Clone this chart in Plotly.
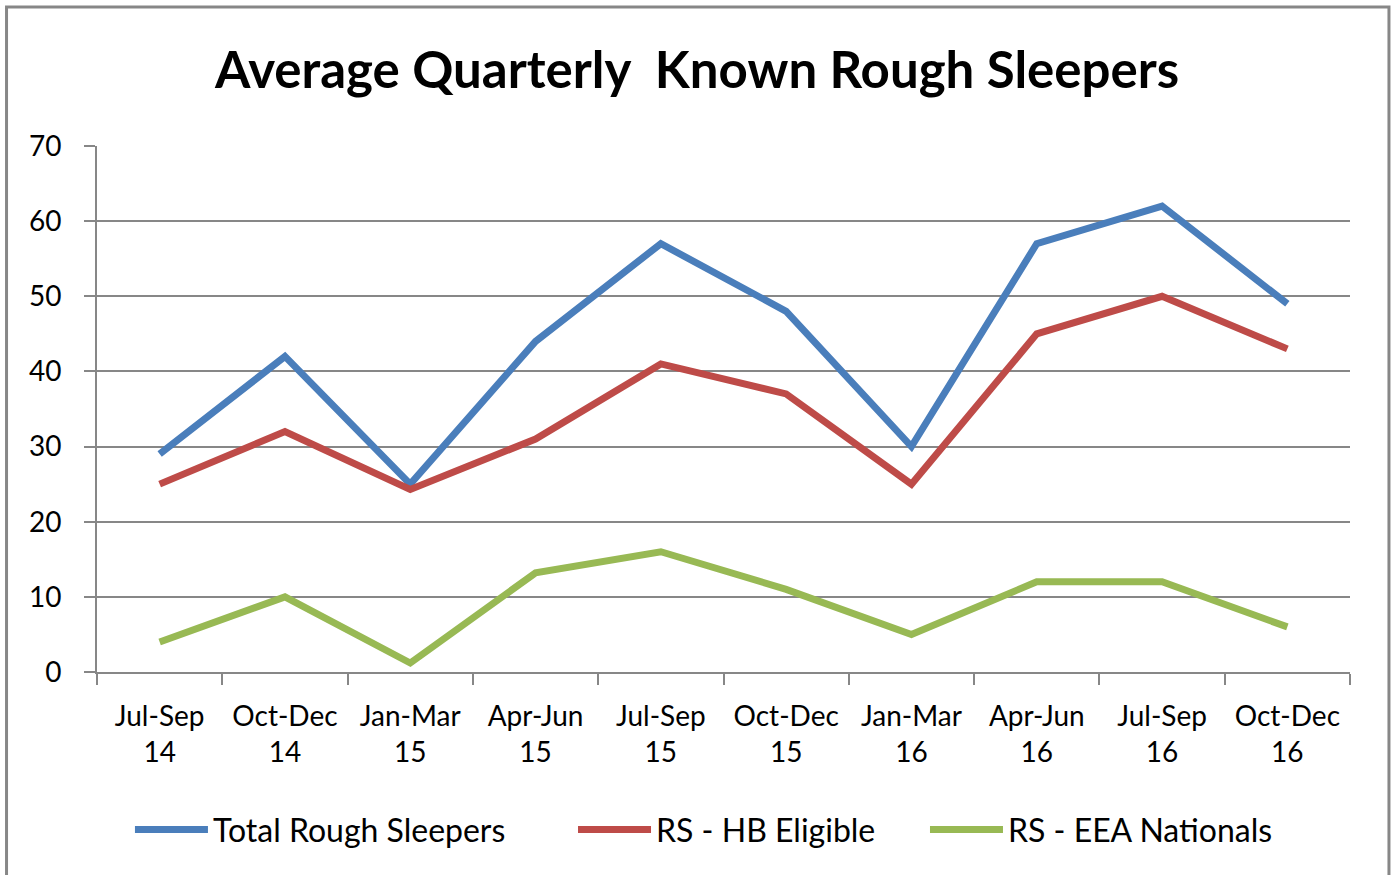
import plotly.graph_objects as go

categories = ["Jul-Sep<br>14", "Oct-Dec<br>14", "Jan-Mar<br>15", "Apr-Jun<br>15", "Jul-Sep<br>15",
              "Oct-Dec<br>15", "Jan-Mar<br>16", "Apr-Jun<br>16", "Jul-Sep<br>16", "Oct-Dec<br>16"]
total_rough_sleepers = [29, 42, 25, 44, 57, 48, 30, 57, 62, 49]
rs_hb_eligible = [25, 32, 24.3, 31, 41, 37, 25, 45, 50, 43]
rs_eea_nationals = [4, 10, 1.2, 13.2, 16, 11, 5, 12, 12, 6]
y_ticks = [0, 10, 20, 30, 40, 50, 60, 70]

series = [
    ("Total Rough Sleepers", total_rough_sleepers, "#4A7EBB", "legend"),
    ("RS - HB Eligible", rs_hb_eligible, "#BE4B48", "legend2"),
    ("RS - EEA Nationals", rs_eea_nationals, "#98B954", "legend3"),
]
legend_x = {"legend": 0.0263, "legend2": 0.3799, "legend3": 0.6608}

FONT = "Lato"
GRAY = "#878787"

fig = go.Figure()
for name, vals, col, lg in series:
    fig.add_trace(go.Scatter(x=categories, y=vals, name=name, mode="lines", legend=lg,
                             line=dict(color=col, width=7)))

legend_common = dict(orientation="h", xanchor="left", y=-0.30, yanchor="middle",
                     font=dict(family=FONT, size=32, color="black"), itemwidth=73,
                     bgcolor="rgba(0,0,0,0)", borderwidth=0)

fig.update_layout(
    width=1394, height=875,
    margin=dict(l=97, r=44, t=146, b=203),
    paper_bgcolor="white", plot_bgcolor="white",
    font=dict(family=FONT, color="black", size=28),
    title=dict(text="<b>Average Quarterly  Known Rough Sleepers</b>",
               x=0.5, xanchor="center", y=0.92, yanchor="middle",
               font=dict(family=FONT, size=51, color="black")),
    showlegend=True,
    legend=dict(x=legend_x["legend"], **legend_common),
    legend2=dict(x=legend_x["legend2"], **legend_common),
    legend3=dict(x=legend_x["legend3"], **legend_common),
    shapes=[dict(type="rect", xref="paper", yref="paper",
                 x0=-0.0722, x1=1.0311, y0=-0.45, y1=1.2643,
                 line=dict(color=GRAY, width=3), fillcolor="rgba(0,0,0,0)", layer="below")],
)

fig.update_xaxes(type="category", range=[-0.5, 9.5], showgrid=False, showline=True,
                 linecolor=GRAY, linewidth=2, ticks="outside", tickson="boundaries",
                 ticklen=11, tickwidth=2, tickcolor=GRAY, ticklabelstandoff=18,
                 tickfont=dict(family=FONT, size=28, color="black"))
fig.update_yaxes(range=[0, 70], tickvals=y_ticks, showgrid=True, gridcolor=GRAY, gridwidth=2,
                 showline=True, linecolor=GRAY, linewidth=2, ticks="outside", ticklen=11,
                 tickwidth=2, tickcolor=GRAY, zeroline=False, ticklabelstandoff=17,
                 tickfont=dict(family=FONT, size=28, color="black"))

fig.write_html("out.html", config={"displayModeBar": False},
               post_script="document.body.style.margin='0';document.body.style.overflow='hidden';")
